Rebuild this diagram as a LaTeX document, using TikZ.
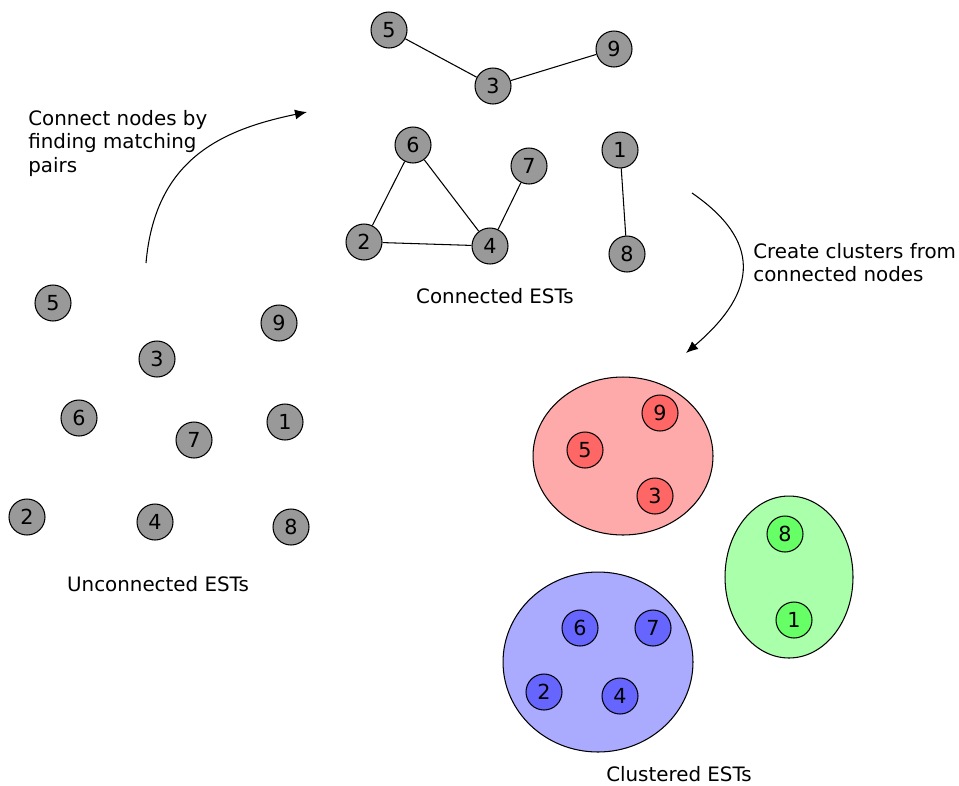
\documentclass[tikz,border=0pt]{standalone}
\usepackage{fontspec}
\setmainfont{DejaVu Sans}
\usetikzlibrary{shapes.geometric, arrows.meta, positioning}
\definecolor{estgray}{HTML}{999999}
\definecolor{redclus}{HTML}{FFAAAA}
\definecolor{rednode}{HTML}{FF6666}
\definecolor{greenclus}{HTML}{AAFFAA}
\definecolor{greennode}{HTML}{66FF66}
\definecolor{blueclus}{HTML}{AAAAFF}
\definecolor{bluenode}{HTML}{6666FF}
\tikzset{
  EST/.style = {
    circle, draw, line width = 0.6pt, fill = estgray,
    minimum size = 0.72cm, inner sep = 0pt,
    font = \fontsize{11.8}{13}\selectfont,
  },
  Cluster/.style = {
    ellipse, draw, line width = 0.6pt, inner sep = 0pt,
  },
  Label1/.style = {
    inner sep = 0pt, align = left,
    font = \fontsize{11.3}{13.3}\selectfont,
  },
  Arrow1/.style = {
    draw, line width = 0.6pt,
    -{Latex[length = 2.4mm, width = 2mm]},
  }
}

\begin{document}
\begin{tikzpicture}[x = 0.02cm, y = -0.02cm]
  \useasboundingbox (0,0) rectangle (959,785);

  % unconnected
  \node[EST] (u5) at (53,303) {5};
  \node[EST] (u9) at (279,323) {9};
  \node[EST] (u3) at (157,359) {3};
  \node[EST] (u6) at (79,418) {6};
  \node[EST] (u7) at (194,440) {7};
  \node[EST] (u1) at (285,422) {1};
  \node[EST] (u2) at (27,517) {2};
  \node[EST] (u4) at (155,522) {4};
  \node[EST] (u8) at (291,527) {8};
  \node[Label1] (ulabel) at (158,584) {Unconnected ESTs};

  % connected
  \node[EST] (c5) at (389,30) {5};
  \node[EST] (c3) at (493,86) {3};
  \node[EST] (c9) at (614,49) {9};
  \node[EST] (c6) at (413,145) {6};
  \node[EST] (c7) at (529,166) {7};
  \node[EST] (c1) at (620,150) {1};
  \node[EST] (c2) at (364,242) {2};
  \node[EST] (c4) at (490,246) {4};
  \node[EST] (c8) at (627,254) {8};
  \node[Label1] (clabel) at (495,296) {Connected ESTs};
  \draw[line width = 0.6pt]
    (c5) -- (c3) (c3) -- (c9)
    (c6) -- (c2) (c6) -- (c4) (c2) -- (c4) (c4) -- (c7)
    (c1) -- (c8);

  % clustered
  \node[Cluster, fill = redclus, minimum width = 3.6cm, minimum height = 3.16cm] (kred) at (623,456) {};
  \node[EST, fill = rednode] (k9) at (660,413) {9};
  \node[EST, fill = rednode] (k5) at (585,450) {5};
  \node[EST, fill = rednode] (k3) at (655,496) {3};
  \node[Cluster, fill = greenclus, minimum width = 2.56cm, minimum height = 3.24cm] (kgreen) at (789,577) {};
  \node[EST, fill = greennode] (k8) at (785,534) {8};
  \node[EST, fill = greennode] (k1) at (794,620) {1};
  \node[Cluster, fill = blueclus, minimum width = 3.8cm, minimum height = 3.6cm] (kblue) at (598,662) {};
  \node[EST, fill = bluenode] (k6) at (580,628) {6};
  \node[EST, fill = bluenode] (k7) at (653,628) {7};
  \node[EST, fill = bluenode] (k2) at (544,692) {2};
  \node[EST, fill = bluenode] (k4) at (620,696) {4};
  \node[Label1] (klabel) at (679,774) {Clustered ESTs};

  % arrows
  \node[Label1, anchor = north west] (pairtext) at (28,110) {Connect nodes by\\finding matching\\pairs};
  \coordinate (a1s) at (146,263);
  \coordinate (a1e) at (307,112);
  \draw[Arrow1] (a1s) .. controls (155,160) and (220,130) .. (a1e);

  \node[Label1, anchor = north west] (clustext) at (753,243) {Create clusters from\\connected nodes};
  \coordinate (a2s) at (692,193);
  \coordinate (a2e) at (686,353);
  \draw[Arrow1] (a2s) .. controls (760,240) and (760,290) .. (a2e);
\end{tikzpicture}
\end{document}
